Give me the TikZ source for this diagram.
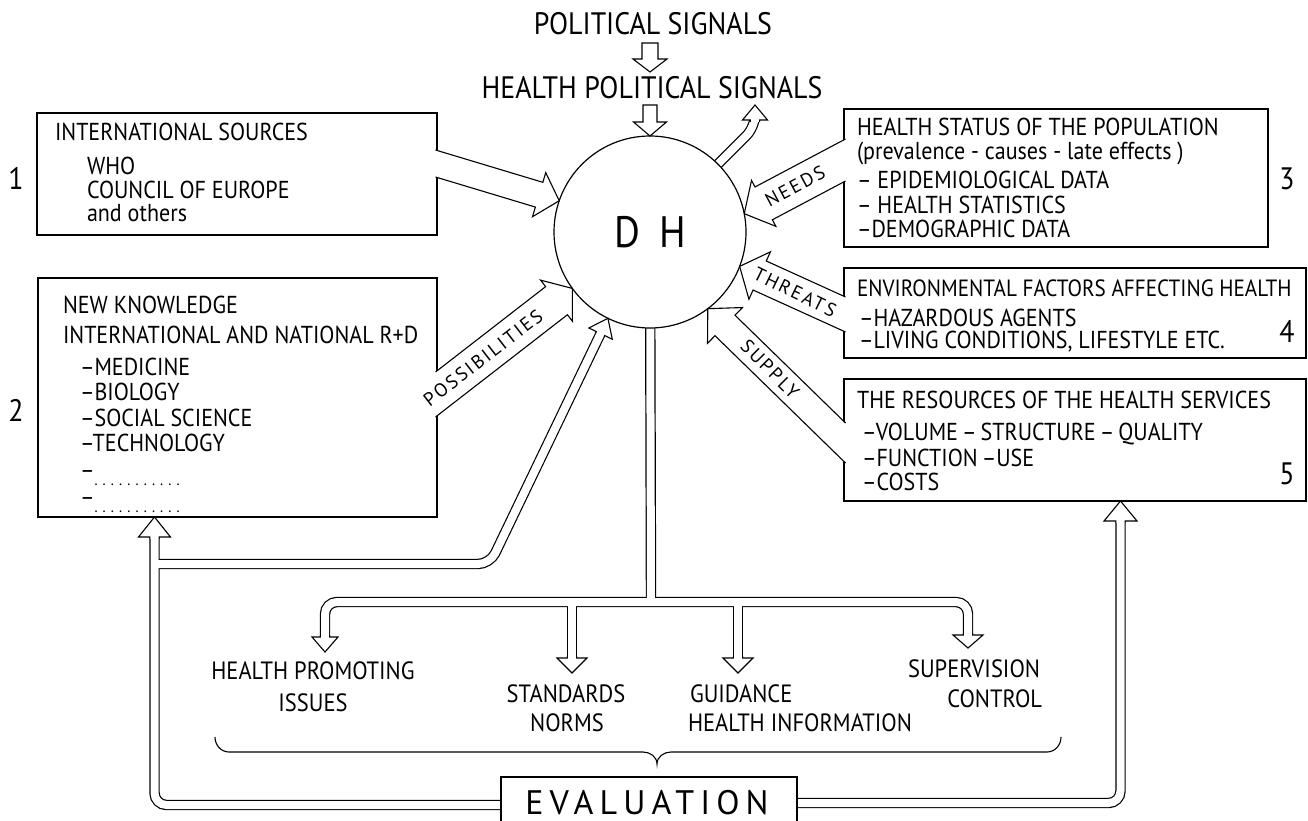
\documentclass[tikz,border=0pt]{standalone}
\usepackage{fontspec}
\setmainfont{PT Sans}[FakeStretch=0.9]
\newfontfamily\lblfont{PT Sans}[LetterSpace=12]
\newfontfamily\evalfont{PT Sans}[LetterSpace=18]
\usetikzlibrary{calc}

% block arrow: #1,#2 base corners, #3 tip, #4 head length, #5 half head width, #6 closing
\newcommand\blk[6]{%
  \coordinate (bM) at ($(#1)!0.5!(#2)$);
  \coordinate (bH) at ($(#3)!#4!(bM)$);
  \coordinate (bUx) at ($(#1)+(#3)-(bM)$);
  \coordinate (bLx) at ($(#2)+(#3)-(bM)$);
  \coordinate (bU) at ($(#1)!(bH)!(bUx)$);
  \coordinate (bL) at ($(#2)!(bH)!(bLx)$);
  \coordinate (bB1) at ($(bH)!#5!(bU)$);
  \coordinate (bB2) at ($(bH)!#5!(bL)$);
  \draw[blockarrow] (#1) -- (bU) -- (bB1) -- (#3) -- (bB2) -- (bL) -- (#2) #6;
}
% head of a double line: #1 point on shaft, #2 tip, #3 head length, #4 half head width
\newcommand\dhead[4]{%
  \coordinate (dH) at ($(#2)!#3!(#1)$);
  \coordinate (dM) at ($(dH)!2pt!(#1)$);
  \coordinate (dU) at ($(dM)!4.6pt!90:(#2)$);
  \coordinate (dL) at ($(dM)!4.6pt!-90:(#2)$);
  \blk{dU}{dL}{#2}{#3}{#4}{}
}

\begin{document}
\begin{tikzpicture}[x=1pt,y=-1pt,
  every node/.style={inner sep=0pt,outer sep=0pt},
  boxst/.style={draw,line width=1.1pt,anchor=north west},
  bodytxt/.style={anchor=base west,font=\fontsize{24.5}{27}\selectfont},
  numtxt/.style={font=\fontsize{31}{32}\selectfont},
  titletxt/.style={font=\fontsize{31}{33}\selectfont},
  blockarrow/.style={draw,fill=white,line width=1.1pt,line join=miter},
  dlo/.style={line width=10.4pt,rounded corners=12pt},
  dli/.style={line width=8pt,white,rounded corners=12pt},
  lbl/.style={font=\lblfont\fontsize{19}{20}\selectfont},
  botc/.style={anchor=base,font=\fontsize{25}{28}\selectfont},
  botl/.style={anchor=base west,font=\fontsize{25}{28}\selectfont},
  botr/.style={anchor=base east,font=\fontsize{25}{28}\selectfont},
]
\fill[white] (0,0) rectangle (1308,821);
\useasboundingbox (0,0) rectangle (1308,821);

% boxes
\node[boxst,minimum width=400pt,minimum height=122pt] (b1) at (37,113) {};
\node[boxst,minimum width=399pt,minimum height=239pt] (b2) at (38,278) {};
\node[boxst,minimum width=424pt,minimum height=138pt] (b3) at (844,109) {};
\node[boxst,minimum width=462pt,minimum height=90pt] (b4) at (844,268) {};
\node[boxst,minimum width=462pt,minimum height=122pt] (b5) at (844,379) {};

% key points
\coordinate (dhc) at (650,232);
\coordinate (outK) at (755,127);
\coordinate (outT) at (755,105);
\coordinate (vJ) at (651,602);
\coordinate (hpK) at (325,602);
\coordinate (hpT) at (325,652);
\coordinate (stK) at (572,602);
\coordinate (stT) at (572,673);
\coordinate (guK) at (738,602);
\coordinate (guT) at (738,673);
\coordinate (suK) at (968,602);
\coordinate (suT) at (968,648);
\coordinate (lpS) at (510,805);
\coordinate (lpK) at (154.5,805);
\coordinate (lpT) at (154.5,517);
\coordinate (lbS) at (154.5,564);
\coordinate (lbK) at (490,564);
\coordinate (lbT) at ($(dhc)+(244:96pt)$);
\coordinate (rpS) at (790,803);
\coordinate (rpK) at (1120.5,803);
\coordinate (rpT) at (1120.5,501);

% double lines
\foreach \st in {dlo,dli}{
  \draw[\st] (dhc) -- (outK) -- ($(outT)!15pt!(outK)$);
  \draw[\st] (dhc) -- (vJ);
  \draw[\st] ($(hpT)!15pt!(hpK)$) -- (hpK) -- (suK) -- ($(suT)!13pt!(suK)$);
  \draw[\st] (stK) -- ($(stT)!15pt!(stK)$);
  \draw[\st] (guK) -- ($(guT)!15pt!(guK)$);
  \draw[\st] (lpS) -- (lpK) -- ($(lpT)!20pt!(lpK)$);
  \draw[\st] (lbS) -- (lbK) -- ($(lbT)!17pt!(lbK)$);
  \draw[\st] (rpS) -- (rpK) -- ($(rpT)!20pt!(rpK)$);
}

% evaluation box
\node[boxst,fill=white,minimum width=296pt,minimum height=60pt] (ev) at (501,777) {};
\node[font=\evalfont\fontsize{34}{34}\selectfont] (evt) at (647,803) {EVALUATION};

% circle
\node[draw,fill=white,circle,line width=1.2pt,minimum size=192pt,
      font=\fontsize{44}{44}\selectfont] (dh) at (dhc) {D\hspace{19pt}H};

% top block arrows
\blk{642,43}{658,43}{650,72}{13pt}{17pt}{-- cycle}
\blk{643,105}{657,105}{dh.north}{14pt}{16.5pt}{-- cycle}

% box arrows
\blk{435.5,150}{435.5,177}{dh.161}{21pt}{23pt}{}
\blk{435.5,372}{435.5,417}{dh.216}{20pt}{26pt}{}
\blk{845.5,139}{845.5,181}{dh.11}{22pt}{26pt}{}
\blk{845.5,297}{845.5,332}{dh.-21}{22pt}{26pt}{}
\blk{845.5,423}{845.5,463}{dh.-53}{24pt}{25pt}{}

% heads of double lines
\dhead{outK}{outT}{15pt}{12.5pt}
\dhead{hpK}{hpT}{15pt}{13pt}
\dhead{stK}{stT}{15pt}{15pt}
\dhead{guK}{guT}{15pt}{15pt}
\dhead{suK}{suT}{13pt}{15pt}
\dhead{lpK}{lpT}{20pt}{16pt}
\dhead{lbK}{lbT}{17pt}{13pt}
\dhead{rpK}{rpT}{20pt}{16.5pt}

% titles
\node[titletxt] (ps) at (653,24) {POLITICAL SIGNALS};
\node[titletxt] (hps) at (652,88) {HEALTH POLITICAL SIGNALS};

% arrow labels
\node[lbl,rotate=37.8] (lposs) at (483,358) {POSSIBILITIES};
\node[lbl,rotate=28] (lneeds) at (795,186) {NEEDS};
\node[lbl,rotate=-26] (lthr) at (795,292) {THREATS};
\node[lbl,rotate=-45] (lsup) at (770,369) {SUPPLY};

% numbers
\node[numtxt] (n1) at (16,178) {1};
\node[numtxt] (n2) at (16,410) {2};
\node[numtxt] (n3) at (1287,179) {3};
\node[numtxt] (n4) at (1287,331) {4};
\node[numtxt] (n5) at (1287,474) {5};

% box 1 text
\node[bodytxt] (t11) at (55,141) {INTERNATIONAL SOURCES};
\node[bodytxt] (t12) at (87,175) {WHO};
\node[bodytxt] (t13) at (87,198) {COUNCIL OF EUROPE};
\node[bodytxt] (t14) at (87,222) {and others};

% box 2 text
\node[bodytxt] (t21) at (63,313) {NEW KNOWLEDGE};
\node[bodytxt] (t22) at (63,343) {INTERNATIONAL AND NATIONAL R+D};
\node[bodytxt] (t23) at (80,375) {–MEDICINE};
\node[bodytxt] (t24) at (80,400) {–BIOLOGY};
\node[bodytxt] (t25) at (80,426) {–SOCIAL SCIENCE};
\node[bodytxt] (t26) at (80,451) {–TECHNOLOGY};
\node[bodytxt] (t27) at (80,478) {–\raisebox{-7pt}{\fontsize{16}{16}\selectfont . . . . . . . . . . .}};
\node[bodytxt] (t28) at (80,505) {–\raisebox{-7pt}{\fontsize{16}{16}\selectfont . . . . . . . . . . .}};

% box 3 text
\node[bodytxt] (t31) at (857,136) {HEALTH STATUS OF THE POPULATION};
\node[bodytxt] (t32) at (857,160) {(prevalence - causes - late effects )};
\node[bodytxt] (t33) at (857,189) {– EPIDEMIOLOGICAL DATA};
\node[bodytxt] (t34) at (857,213) {– HEALTH STATISTICS};
\node[bodytxt] (t35) at (857,237) {–DEMOGRAPHIC DATA};

% box 4 text
\node[bodytxt,font=\fontsize{23.5}{26}\selectfont] (t41) at (857,296) {ENVIRONMENTAL FACTORS AFFECTING HEALTH};
\node[bodytxt] (t42) at (859,326) {–HAZARDOUS AGENTS};
\node[bodytxt] (t43) at (859,348) {–LIVING CONDITIONS, LIFESTYLE ETC.};

% box 5 text
\node[bodytxt] (t51) at (857,408) {THE RESOURCES OF THE HEALTH SERVICES};
\node[bodytxt] (t52) at (862,440) {–VOLUME\,–\,STRUCTURE\,–\,QUALITY};
\node[bodytxt] (t53) at (862,466) {–FUNCTION\,–USE};
\node[bodytxt] (t54) at (862,490) {–COSTS};

% bottom labels
\node[botc] (hp1) at (313,679) {HEALTH PROMOTING};
\node[botc] (hp2) at (313,711) {ISSUES};
\node[botc] (st1) at (566,702) {STANDARDS};
\node[botc] (st2) at (567,731) {NORMS};
\node[botl] (gu1) at (690,702) {GUIDANCE};
\node[botl] (gu2) at (688,731) {HEALTH INFORMATION};
\node[botr] (su1) at (1040,677) {SUPERVISION};
\node[botr] (su2) at (1042,707) {CONTROL};

% brace
\draw[line width=1.1pt] (215,737) to[out=-90,in=180] (229,752) -- (643,752)
  to[out=0,in=90] (657,764) to[out=90,in=180] (671,752) -- (1047,752)
  to[out=0,in=-90] (1061,737);
\end{tikzpicture}
\end{document}
